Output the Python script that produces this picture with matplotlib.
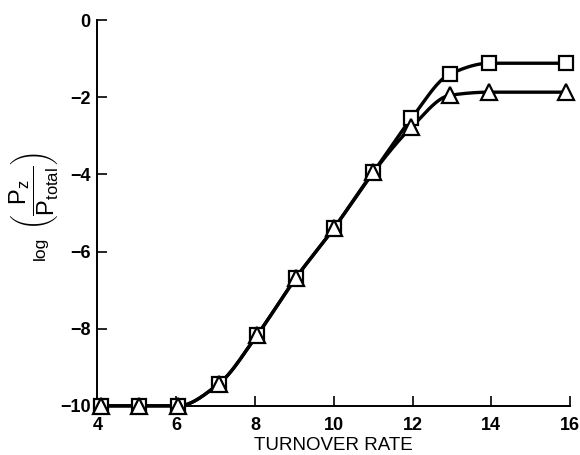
import numpy as np
import matplotlib
matplotlib.use('Agg')
import matplotlib.pyplot as plt

plt.rcParams['font.family'] = ['Liberation Sans', 'DejaVu Sans']
plt.rcParams['axes.unicode_minus'] = True
plt.rcParams['mathtext.fontset'] = 'custom'
plt.rcParams['mathtext.rm'] = 'Liberation Sans'
plt.rcParams['mathtext.it'] = 'Liberation Sans'

# data
turnover   = [4.1, 5.05, 6.05, 7.08, 8.05, 9.04, 10.0, 11.0, 11.97, 12.95, 13.95, 15.9]
log_square = [-10.0, -10.0, -10.0, -9.43, -8.17, -6.68, -5.4, -3.95, -2.55, -1.4, -1.12, -1.12]
log_tri    = [-10.0, -10.0, -10.0, -9.43, -8.17, -6.68, -5.4, -3.95, -2.78, -1.95, -1.87, -1.87]

X_TICKS = [4, 6, 8, 10, 12, 14, 16]
Y_TICKS = [0, -2, -4, -6, -8, -10]


def pchip_curve(x, y, n=400):
    # monotone cubic through the measured points, only used to draw the line
    x = np.asarray(x, float)
    y = np.asarray(y, float)
    h = np.diff(x)
    d = np.diff(y) / h
    m = np.zeros_like(y)
    for k in range(1, len(x) - 1):
        if d[k - 1] * d[k] > 0:
            w1 = 2 * h[k] + h[k - 1]
            w2 = h[k] + 2 * h[k - 1]
            m[k] = (w1 + w2) / (w1 / d[k - 1] + w2 / d[k])
    m[0] = d[0]
    m[-1] = d[-1]
    xs = np.linspace(x[0], x[-1], n)
    idx = np.clip(np.searchsorted(x, xs) - 1, 0, len(h) - 1)
    t = (xs - x[idx]) / h[idx]
    h00 = 2 * t**3 - 3 * t**2 + 1
    h10 = t**3 - 2 * t**2 + t
    h01 = -2 * t**3 + 3 * t**2
    h11 = t**3 - t**2
    ys = (h00 * y[idx] + h10 * h[idx] * m[idx]
          + h01 * y[idx + 1] + h11 * h[idx] * m[idx + 1])
    return xs, ys


fig = plt.figure(figsize=(5.8, 4.55), dpi=100)
ax = fig.add_axes([0.168, 0.108, 0.815, 0.848])

for ys in (log_square, log_tri):
    cx, cy = pchip_curve(turnover, ys)
    ax.plot(cx, cy, color='black', linewidth=2.4, clip_on=False, zorder=2)

ax.plot(turnover, log_square, linestyle='none', marker='s', markersize=10,
        markerfacecolor='white', markeredgecolor='black', markeredgewidth=1.6,
        clip_on=False, zorder=3)
ax.plot(turnover, log_tri, linestyle='none', marker='^', markersize=11.5,
        markerfacecolor='white', markeredgecolor='black', markeredgewidth=1.6,
        clip_on=False, zorder=4)

ax.set_xlim(4, 16)
ax.set_ylim(-10, 0)
ax.set_xticks(X_TICKS)
ax.set_yticks(Y_TICKS)
ax.set_xticklabels([str(v) for v in X_TICKS], fontweight='bold', fontsize=13)
ax.set_yticklabels([str(v).replace('-', '\u2212') for v in Y_TICKS],
                   fontweight='bold', fontsize=13)
ax.tick_params(direction='in', length=7, width=1.2)
ax.tick_params(axis='x', pad=8)
ax.tick_params(axis='y', pad=5)

for side in ['top', 'right']:
    ax.spines[side].set_visible(False)
for side in ['left', 'bottom']:
    ax.spines[side].set_linewidth(1.4)

ax.set_xlabel('TURNOVER RATE', fontsize=13.5, labelpad=2)

# y label: small "log" followed by the large bracketed ratio
fig.text(0.069, 0.455, 'log', rotation=90, fontsize=12.5,
         ha='center', va='center')
fig.text(0.060, 0.580,
         r'$\left(\dfrac{\mathrm{P_z}}{\mathrm{P_{total}}}\right)$',
         rotation=90, fontsize=17, ha='center', va='center')

fig.savefig('out.png', dpi=100, facecolor='white')
